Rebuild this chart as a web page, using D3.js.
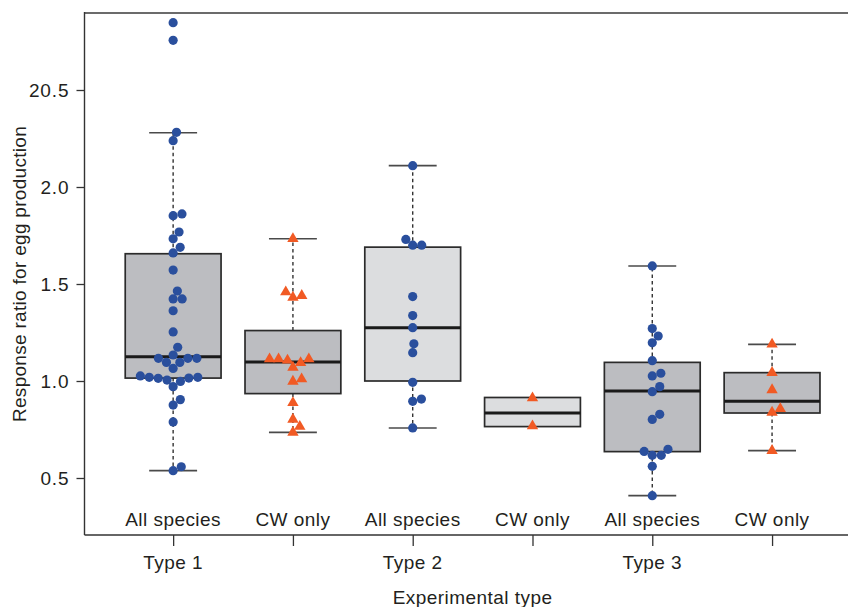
<!DOCTYPE html>
<html lang="en">
<head>
    <meta charset="UTF-8">
    <title>Response ratio for egg production</title>
    <style>
        body {
            margin: 0;
            padding: 0;
            background-color: #fff;
            font-family: "Liberation Sans", Arial, sans-serif;
        }
        svg text {
            fill: #231f20;
            letter-spacing: 0.45px;
        }
    </style>
</head>
<body>
    <svg width="848" height="607"></svg>
    <script src="https://d3js.org/d3.v7.min.js"></script>
    <script>
        // categories
        const groupKeys = ["t1all", "t1cw", "t2all", "t2cw", "t3all", "t3cw"];
        const groupLabels = ["All species", "CW only", "All species", "CW only", "All species", "CW only"];
        const typeLabels = ["Type 1", "Type 2", "Type 3"];
        const typeGroups = ["t1all", "t2all", "t3all"];
        const lightBoxes = ["t2all", "t2cw"];

        // y axis ticks (top one is labelled 20.5 past the axis break)
        const yTicks = [0.5, 1.0, 1.5, 2.0, 2.5];
        const yTickLabels = ["0.5", "1.0", "1.5", "2.0", "20.5"];

        // box statistics
        const whiskerLow = [0.538, 0.735, 0.758, 0.765, 0.409, 0.641];
        const boxQ1 = [1.015, 0.935, 1.0, 0.765, 0.636, 0.835];
        const boxMedian = [1.125, 1.098, 1.275, 0.835, 0.948, 0.895];
        const boxQ3 = [1.656, 1.26, 1.69, 0.915, 1.096, 1.043];
        const whiskerHigh = [2.28, 1.733, 2.11, 0.915, 1.593, 1.189];

        // individual response ratios
        const t1All = [2.847, 2.756, 2.282, 2.239, 1.861, 1.852, 1.768, 1.733, 1.689, 1.66, 1.572, 1.464,
            1.423, 1.423, 1.362, 1.253, 1.174, 1.134, 1.117, 1.117, 1.117, 1.096, 1.096, 1.065, 1.026,
            1.019, 1.015, 1.005, 0.998, 1.014, 1.019, 0.971, 0.904, 0.876, 0.789, 0.558, 0.538];
        const t1Cw = [1.733, 1.459, 1.431, 1.44, 1.113, 1.113, 1.107, 1.094, 1.113, 1.07, 0.998, 1.01,
            0.888, 0.802, 0.765, 0.735];
        const t2All = [2.11, 1.73, 1.70, 1.70, 1.435, 1.337, 1.275, 1.192, 1.146, 0.993, 0.907, 0.895, 0.758];
        const t2Cw = [0.912, 0.768];
        const t3All = [1.593, 1.27, 1.232, 1.197, 1.105, 1.04, 1.026, 0.971, 0.945, 0.828, 0.802, 0.648,
            0.637, 0.617, 0.617, 0.56, 0.409];
        const t3Cw = [1.189, 1.043, 0.954, 0.857, 0.838, 0.641];

        const groupPoints = [t1All, t1Cw, t2All, t2Cw, t3All, t3Cw];
        const groupShape = ["circle", "triangle", "circle", "triangle", "circle", "triangle"];

        const svg = d3.select("svg");
        const plot = {left: 84.5, right: 860.7, top: 13, bottom: 535};

        const x = d3.scalePoint()
            .domain(groupKeys)
            .range([plot.left, plot.right])
            .padding(0.74);
        const step = x.step();

        const y = d3.scaleLinear()
            .domain([0.5, 2.5])
            .range([478, 90]);

        const fontSize = 19;

        // frame
        svg.append("line")
            .attr("x1", plot.left).attr("x2", plot.right)
            .attr("y1", plot.top).attr("y2", plot.top)
            .attr("stroke", "#6b6b6b").attr("stroke-width", 2);
        svg.append("line")
            .attr("x1", plot.left).attr("x2", plot.left)
            .attr("y1", plot.top - 1).attr("y2", plot.bottom)
            .attr("stroke", "#333").attr("stroke-width", 1.4);
        svg.append("line")
            .attr("x1", plot.left).attr("x2", plot.right)
            .attr("y1", plot.bottom).attr("y2", plot.bottom)
            .attr("stroke", "#333").attr("stroke-width", 1.4);

        // y axis
        const yAxis = d3.axisLeft(y)
            .tickValues(yTicks)
            .tickSize(8)
            .tickPadding(7)
            .tickFormat((d, i) => yTickLabels[i]);

        const yg = svg.append("g")
            .attr("transform", `translate(${plot.left},0)`)
            .call(yAxis);
        yg.select(".domain").remove();
        yg.selectAll(".tick line").attr("stroke", "#333").attr("stroke-width", 1.3);
        yg.selectAll(".tick text")
            .style("font-size", fontSize + "px")
            .style("font-family", "'Liberation Sans', Arial, sans-serif")
            .style("letter-spacing", "0.9px")
            .attr("fill", "#231f20");

        svg.append("text")
            .attr("transform", `translate(26,${(plot.top + plot.bottom) / 2}) rotate(-90)`)
            .attr("text-anchor", "middle")
            .style("font-size", fontSize + "px")
            .style("letter-spacing", "0.3px")
            .text("Response ratio for egg production");

        // x axis ticks under the frame
        const xAxis = d3.axisBottom(x)
            .tickSize(11)
            .tickFormat("");
        const xg = svg.append("g")
            .attr("transform", `translate(0,${plot.bottom})`)
            .call(xAxis);
        xg.select(".domain").remove();
        xg.selectAll(".tick line").attr("stroke", "#333").attr("stroke-width", 1.3);

        svg.selectAll(".group-label")
            .data(groupKeys)
            .enter().append("text")
            .attr("class", "group-label")
            .attr("x", d => x(d))
            .attr("y", 526)
            .attr("text-anchor", "middle")
            .style("font-size", fontSize + "px")
            .text((d, i) => groupLabels[i]);

        svg.selectAll(".type-label")
            .data(typeGroups)
            .enter().append("text")
            .attr("class", "type-label")
            .attr("x", d => x(d))
            .attr("y", 569)
            .attr("text-anchor", "middle")
            .style("font-size", fontSize + "px")
            .text((d, i) => typeLabels[i]);

        svg.append("text")
            .attr("x", (plot.left + plot.right) / 2)
            .attr("y", 604)
            .attr("text-anchor", "middle")
            .style("font-size", fontSize + "px")
            .text("Experimental type");

        // boxes
        const boxW = step * 0.8;
        const capW = step * 0.4;

        const boxes = svg.append("g");
        groupKeys.forEach((key, i) => {
            const cx = x(key);
            const g = boxes.append("g");

            if (whiskerHigh[i] > boxQ3[i]) {
                g.append("line")
                    .attr("x1", cx).attr("x2", cx)
                    .attr("y1", y(boxQ3[i])).attr("y2", y(whiskerHigh[i]))
                    .attr("stroke", "#333").attr("stroke-width", 1.4)
                    .attr("stroke-dasharray", "3.5,3");
                g.append("line")
                    .attr("x1", cx - capW / 2).attr("x2", cx + capW / 2)
                    .attr("y1", y(whiskerHigh[i])).attr("y2", y(whiskerHigh[i]))
                    .attr("stroke", "#4a4a4a").attr("stroke-width", 1.6);
            }
            if (whiskerLow[i] < boxQ1[i]) {
                g.append("line")
                    .attr("x1", cx).attr("x2", cx)
                    .attr("y1", y(boxQ1[i])).attr("y2", y(whiskerLow[i]))
                    .attr("stroke", "#333").attr("stroke-width", 1.4)
                    .attr("stroke-dasharray", "3.5,3");
                g.append("line")
                    .attr("x1", cx - capW / 2).attr("x2", cx + capW / 2)
                    .attr("y1", y(whiskerLow[i])).attr("y2", y(whiskerLow[i]))
                    .attr("stroke", "#4a4a4a").attr("stroke-width", 1.6);
            }

            g.append("rect")
                .attr("x", cx - boxW / 2)
                .attr("y", y(boxQ3[i]))
                .attr("width", boxW)
                .attr("height", y(boxQ1[i]) - y(boxQ3[i]))
                .attr("fill", lightBoxes.includes(key) ? "#dcdddf" : "#bcbdc1")
                .attr("stroke", "#2b2b2b")
                .attr("stroke-width", 1.7);

            g.append("line")
                .attr("x1", cx - boxW / 2).attr("x2", cx + boxW / 2)
                .attr("y1", y(boxMedian[i])).attr("y2", y(boxMedian[i]))
                .attr("stroke", "#1a1a1a").attr("stroke-width", 3);
        });

        // beeswarm placement (swarm, lowest value first)
        const dotGap = 9;
        const swarm = values => {
            const sorted = values.map(v => ({v, py: y(v)})).sort((a, b) => a.v - b.v);
            const placed = [];
            sorted.forEach(p => {
                const near = placed.filter(q => Math.abs(q.py - p.py) < dotGap);
                const cands = [0];
                near.forEach(q => {
                    const dx = Math.sqrt(dotGap * dotGap - (q.py - p.py) ** 2);
                    cands.push(q.dx + dx, q.dx - dx);
                });
                const ok = cands.filter(c => near.every(q =>
                    (q.dx - c) ** 2 + (q.py - p.py) ** 2 >= dotGap * dotGap - 0.01));
                ok.sort((a, b) => Math.abs(a) - Math.abs(b) || b - a);
                p.dx = ok[0];
                placed.push(p);
            });
            return placed;
        };

        const points = svg.append("g");
        groupKeys.forEach((key, i) => {
            const pts = swarm(groupPoints[i]);
            if (groupShape[i] === "circle") {
                points.selectAll(".pt-" + key)
                    .data(pts)
                    .enter().append("circle")
                    .attr("class", "pt-" + key)
                    .attr("cx", d => x(key) + d.dx)
                    .attr("cy", d => d.py)
                    .attr("r", 4.6)
                    .attr("fill", "#2a4f9d");
            } else {
                points.selectAll(".pt-" + key)
                    .data(pts)
                    .enter().append("path")
                    .attr("class", "pt-" + key)
                    .attr("d", d3.symbol().type(d3.symbolTriangle).size(56))
                    .attr("transform", d => `translate(${x(key) + d.dx},${d.py})`)
                    .attr("fill", "#f15a24");
            }
        });
    </script>
</body>
</html>
